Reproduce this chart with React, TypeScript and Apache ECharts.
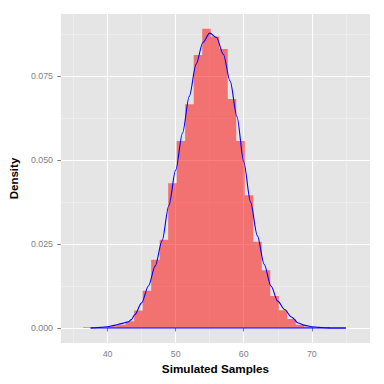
import React, { useEffect, useRef } from "react";
import * as echarts from "echarts";

// Histogram bins (left edges, bin width 1.25) and their densities
const binEdges = [36.4, 37.65, 38.9, 40.15, 41.4, 42.65, 43.9, 45.15, 46.4, 47.65, 48.9, 50.15, 51.4, 52.65, 53.9, 55.15, 56.4, 57.65, 58.9, 60.15, 61.4, 62.65, 63.9, 65.15, 66.4, 67.65, 68.9, 70.15, 71.4, 72.65, 73.9, 75.15];
const binDensity = [0.0002, 0.0, 0.0002, 0.0005, 0.001, 0.002, 0.0052, 0.0111, 0.0203, 0.0263, 0.0431, 0.0557, 0.0666, 0.0813, 0.0891, 0.0868, 0.0831, 0.0682, 0.0557, 0.0395, 0.0257, 0.0172, 0.0095, 0.0053, 0.0027, 0.001, 0.0004, 0.0001, 0.0, 0.0, 0.0];

// Kernel density curve
const densityX = [37.5, 38, 39, 40, 41, 42, 43, 43.5, 44, 45, 46, 47, 48, 49, 50, 51, 52, 53, 54, 55, 56, 57, 58, 59, 60, 61, 62, 63, 64, 65, 66, 67, 68, 69, 70, 71, 72, 73, 74, 75];
const densityY = [0.0, 0.0001, 0.0002, 0.0004, 0.0008, 0.0013, 0.0018, 0.0025, 0.004, 0.0075, 0.0125, 0.0185, 0.026, 0.0365, 0.047, 0.058, 0.069, 0.0785, 0.085, 0.0878, 0.0865, 0.0815, 0.0735, 0.063, 0.0495, 0.0375, 0.0275, 0.019, 0.0125, 0.008, 0.0055, 0.0033, 0.0015, 0.0008, 0.0004, 0.0002, 0.0001, 0.0, 0.0, 0.0];

// Axis ticks
const xMajorTicks = [40, 50, 60, 70];
const xMinorTicks = [35, 45, 55, 65, 75];
const yMajorTicks = [0, 0.025, 0.05, 0.075];
const yMinorTicks = [0.0125, 0.0375, 0.0625, 0.0875];

const X_MIN = 33.14;
const X_MAX = 78.55;
const Y_MIN = -0.00446;
const Y_MAX = 0.0935;

const FONT = "Liberation Sans, Arial, Helvetica, sans-serif";

export default function App() {
  const ref = useRef<HTMLDivElement>(null);

  useEffect(() => {
    document.body.style.margin = "0";
    if (!ref.current) return;
    const chart = echarts.init(ref.current, null, { renderer: "svg" });

    // step outline of the histogram: each bin holds its density until the next edge
    const histData = binDensity.map((d, i) => [binEdges[i], d]);
    histData.push([binEdges[binEdges.length - 1], 0]);
    const curveData = densityX.map((x, i) => [x, densityY[i]]);

    const minorAxisCommon = {
      axisLine: { show: false },
      axisLabel: { show: false },
      splitLine: { show: true, lineStyle: { color: "#F2F2F2", width: 0.6 } },
    };

    const option: any = {
      animation: false,
      backgroundColor: "#FFFFFF",
      grid: {
        left: 57,
        right: 14,
        top: 14,
        bottom: 41,
        show: true,
        backgroundColor: "#E5E5E5",
        borderWidth: 0,
        containLabel: false,
      },
      xAxis: [
        {
          type: "value",
          min: X_MIN,
          max: X_MAX,
          name: "Simulated Samples",
          nameLocation: "middle",
          nameGap: 14,
          nameTextStyle: { fontFamily: FONT, fontSize: 11.7, fontWeight: "bold", color: "#000000" },
          axisLine: { show: false },
          axisTick: { show: true, length: 3.5, lineStyle: { color: "#7F7F7F" }, customValues: xMajorTicks },
          axisLabel: {
            customValues: xMajorTicks,
            fontFamily: FONT,
            fontSize: 8.8,
            color: "#7F7F7F",
            margin: 6,
          },
          splitLine: { show: true, lineStyle: { color: "#FFFFFF", width: 1.1 } },
        },
        {
          type: "value",
          min: X_MIN,
          max: X_MAX,
          position: "bottom",
          ...minorAxisCommon,
          axisTick: { show: false, customValues: xMinorTicks },
        },
      ],
      yAxis: [
        {
          type: "value",
          min: Y_MIN,
          max: Y_MAX,
          name: "Density",
          nameLocation: "middle",
          nameGap: 35,
          nameTextStyle: { fontFamily: FONT, fontSize: 11.5, fontWeight: "bold", color: "#000000" },
          axisLine: { show: false },
          axisTick: { show: true, length: 3.5, lineStyle: { color: "#7F7F7F" }, customValues: yMajorTicks },
          axisLabel: {
            customValues: yMajorTicks,
            fontFamily: FONT,
            fontSize: 8.8,
            color: "#7F7F7F",
            margin: 8,
            formatter: (v: number) => v.toFixed(3),
          },
          splitLine: { show: true, lineStyle: { color: "#FFFFFF", width: 1.1 } },
        },
        {
          type: "value",
          min: Y_MIN,
          max: Y_MAX,
          position: "left",
          ...minorAxisCommon,
          axisTick: { show: false, customValues: yMinorTicks },
        },
      ],
      series: [
        {
          type: "line",
          xAxisIndex: 0,
          yAxisIndex: 0,
          data: histData,
          step: "end",
          showSymbol: false,
          lineStyle: { width: 0, opacity: 0 },
          areaStyle: { color: "rgba(255,0,0,0.5)", origin: 0, opacity: 1 },
          z: 2,
        },
        {
          type: "line",
          xAxisIndex: 0,
          yAxisIndex: 0,
          data: curveData,
          smooth: 0.3,
          smoothMonotone: "x",
          showSymbol: false,
          lineStyle: { color: "#0000FF", width: 1.1 },
          z: 3,
        },
        {
          type: "line",
          xAxisIndex: 0,
          yAxisIndex: 0,
          data: [
            [densityX[0], 0],
            [densityX[densityX.length - 1], 0],
          ],
          showSymbol: false,
          lineStyle: { color: "#0000FF", width: 1.1 },
          z: 3,
        },
      ],
    };

    chart.setOption(option);
    return () => chart.dispose();
  }, []);

  return <div ref={ref} style={{ width: 384, height: 384 }} />;
}
